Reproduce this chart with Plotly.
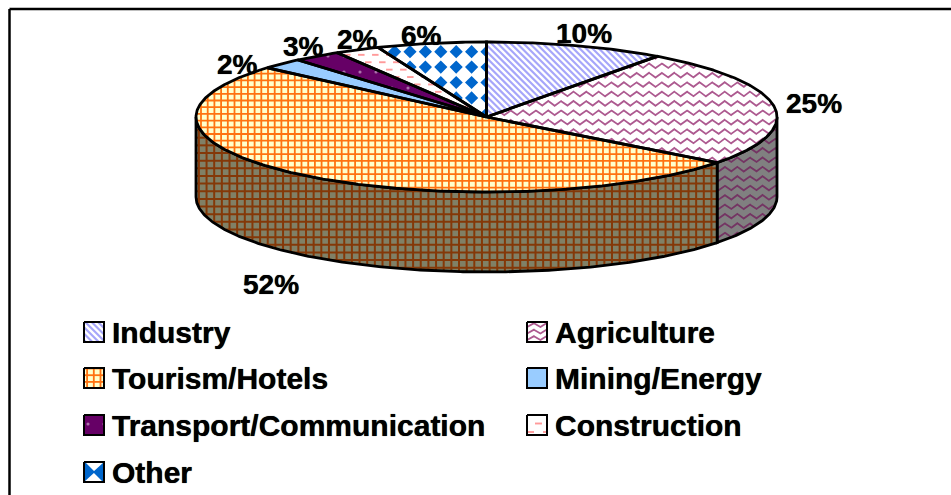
import numpy as np
import plotly.graph_objects as go

# ---- data ----
CATEGORIES = ["Industry", "Agriculture", "Tourism/Hotels", "Mining/Energy",
              "Transport/Communication", "Construction", "Other"]
VALUES = [10.0, 25.4, 51.0, 2.35, 2.65, 2.5, 6.1]
PERCENT_LABELS = ["10%", "25%", "52%", "2%", "3%", "2%", "6%"]

# ---- layout constants (pixels) ----
W, H = 951, 495
CX, CY, RX, RY, DEPTH = 486.5, 117, 290.5, 75, 80
EDGE = 2.8
FONT = "Liberation Sans"
LABEL_POS = [(584, 33), (814, 103), (271, 284), (237, 64), (303, 46), (357, 39), (421, 35)]
LEGEND_ROWS = [332, 378, 425, 472]
LEGEND_COLS = [(84, 110), (527, 552.5)]
LEGEND_SLOTS = [(0, 0), (1, 0), (0, 1), (1, 1), (0, 2), (1, 2), (0, 3)]
SWATCH = 20
THICK = "0 0 0.7px black"

fig = go.Figure()


def ell(t, dy=0.0):
    t = np.radians(t)
    return CX + RX * np.sin(t), CY - RY * np.cos(t) + dy


def arc(a0, a1, dy=0.0):
    n = max(int(abs(a1 - a0) * 2), 2)
    return ell(np.linspace(a0, a1, n), dy)


def inside(px, py, poly):
    xs, ys = poly
    res = np.zeros_like(px, dtype=bool)
    j = len(xs) - 1
    for i in range(len(xs)):
        c = (ys[i] > py) != (ys[j] > py)
        with np.errstate(divide="ignore", invalid="ignore"):
            xc = (xs[j] - xs[i]) * (py - ys[i]) / (ys[j] - ys[i]) + xs[i]
        res ^= c & (px < xc)
        j = i
    return res


def clip_runs(px, py, poly):
    m = inside(px, py, poly)
    ox, oy = [], []
    for i in range(len(px)):
        if m[i]:
            ox.append(float(px[i]))
            oy.append(float(py[i]))
        elif ox and ox[-1] is not None:
            ox.append(None)
            oy.append(None)
    if ox and ox[-1] is not None:
        ox.append(None)
        oy.append(None)
    return ox, oy


def wave_lines(poly, period=12.6, row=9.4, amp=2.6, phase=(0.0, 0.0)):
    xs, ys = poly
    X, Y = [], []
    y0 = np.floor((min(ys) - phase[1]) / row) * row + phase[1]
    for yc in np.arange(y0, max(ys) + row, row):
        px = np.arange(min(xs) - period, max(xs) + period, 0.4)
        f = ((px - phase[0]) / period) % 1.0
        tri = 4 * np.abs(f - 0.5) - 1
        a, b = clip_runs(px, yc + amp * tri, poly)
        X += a
        Y += b
    return X, Y


def dash_lines(poly, period=14, row=7.4, length=6.5):
    xs, ys = poly
    X, Y = [], []
    for k, yc in enumerate(np.arange(min(ys), max(ys) + row, row)):
        off = (k % 2) * period / 2
        for x0 in np.arange(min(xs) - period + off, max(xs) + period, period):
            px = np.linspace(x0, x0 + length, 12)
            a, b = clip_runs(px, np.full_like(px, yc), poly)
            X += a
            Y += b
    return X, Y


def grid_lines(poly, period):
    xs, ys = poly
    X, Y = [], []
    for gx in np.arange(np.floor(min(xs) / period) * period, max(xs) + period, period):
        py = np.arange(min(ys) - 1, max(ys) + 1, 0.5)
        a, b = clip_runs(np.full_like(py, gx), py, poly)
        X += a
        Y += b
    for gy in np.arange(np.floor(min(ys) / period) * period, max(ys) + period, period):
        px = np.arange(min(xs) - 1, max(xs) + 1, 0.5)
        a, b = clip_runs(px, np.full_like(px, gy), poly)
        X += a
        Y += b
    return X, Y


def diag_lines(poly, period):
    xs, ys = poly
    X, Y = [], []
    lo, hi = min(xs) - max(ys), max(xs) - min(ys)
    for c in np.arange(np.floor(lo / period) * period, hi + period, period):
        py = np.arange(min(ys) - 1, max(ys) + 1, 0.5)
        a, b = clip_runs(py + c, py, poly)
        X += a
        Y += b
    return X, Y


def clip_convex(pts, poly):
    xs, ys = poly
    area = np.sum(xs * np.roll(ys, -1) - np.roll(xs, -1) * ys)
    s = 1 if area > 0 else -1
    out = pts
    for i in range(len(xs)):
        ax, ay = xs[i], ys[i]
        bx, by = xs[(i + 1) % len(xs)], ys[(i + 1) % len(xs)]
        if abs(ax - bx) + abs(ay - by) < 1e-9:
            continue
        d = lambda p: s * ((bx - ax) * (p[1] - ay) - (by - ay) * (p[0] - ax))
        new = []
        for k in range(len(out)):
            p, q = out[k], out[(k + 1) % len(out)]
            dp, dq = d(p), d(q)
            if dp >= 0:
                new.append(p)
            if (dp >= 0) != (dq >= 0):
                u = dp / (dp - dq)
                new.append((p[0] + u * (q[0] - p[0]), p[1] + u * (q[1] - p[1])))
        out = new
        if not out:
            break
    return out


def diamonds(poly, period=15.4, half=6.6, anchor=(410, 51.7)):
    xs, ys = poly
    X, Y = [], []
    for gx in np.arange(anchor[0] - 40 * period, anchor[0] + 40 * period, period):
        if gx < min(xs) - half or gx > max(xs) + half:
            continue
        for gy in np.arange(anchor[1] - 20 * period, anchor[1] + 20 * period, period):
            if gy < min(ys) - half or gy > max(ys) + half:
                continue
            d = [(gx - half, gy), (gx, gy - half), (gx + half, gy), (gx, gy + half)]
            c = clip_convex(d, poly)
            if len(c) >= 3:
                X += [p[0] for p in c] + [c[0][0], None]
                Y += [p[1] for p in c] + [c[0][1], None]
    return X, Y


def add_fill(x, y, color="white", pattern=None):
    fig.add_trace(go.Scatter(x=list(x), y=list(y), mode="lines", fill="toself",
                             fillcolor=color, line=dict(width=0, color=color),
                             fillpattern=pattern, showlegend=False, hoverinfo="skip"))


def add_line(x, y, color="black", width=EDGE):
    fig.add_trace(go.Scatter(x=list(x), y=list(y), mode="lines",
                             line=dict(color=color, width=width), showlegend=False,
                             hoverinfo="skip", connectgaps=False))


def add_texture(kind, poly, legend=False):
    if kind == "wave":
        if legend:
            X, Y = wave_lines(poly, period=13, row=6.5, amp=2.2, phase=(poly[0].min(), poly[1].min() + 3))
        else:
            X, Y = wave_lines(poly)
        add_line(X, Y, "#ad5a90", 1.8)
    elif kind == "wave_dark":
        X, Y = wave_lines(poly)
        add_line(X, Y, "#743463", 1.8)
    elif kind == "dash":
        if legend:
            X, Y = dash_lines(poly, period=16, row=8.5, length=7)
        else:
            X, Y = dash_lines(poly)
        add_line(X, Y, "#ff9a9a", 1.9)
    elif kind == "diamond":
        if legend:
            xs, ys = poly
            X, Y = diamonds(poly, period=xs.max() - xs.min(), half=11,
                            anchor=(xs.min(), (ys.min() + ys.max()) / 2))
        else:
            X, Y = diamonds(poly)
        add_fill(X, Y, "#0066cc")
    elif kind == "grid":
        X, Y = grid_lines(poly, 6.7)
        add_line(X, Y, "#ff7210", 1.8)
    elif kind == "grid_dark":
        X, Y = grid_lines(poly, 7.65)
        add_line(X, Y, "#843808", 2.0)
    elif kind == "diag":
        X, Y = diag_lines(poly, 6.4)
        add_line(X, Y, "#a6a6fa", 2.2)


TOP_STYLE = [
    dict(color="white", texture="diag"),
    dict(color="white", texture="wave"),
    dict(color="#ffffcc", texture="grid"),
    dict(color="#99ccff"),
    dict(color="#660066", pattern=dict(shape=".", fgcolor="#f0e4f0", bgcolor="#660066", size=16, solidity=0.03)),
    dict(color="white", texture="dash"),
    dict(color="white", texture="diamond"),
]
SIDE_STYLE = {
    1: dict(color="#808080", texture="wave_dark"),
    2: dict(color="#808066", texture="grid_dark"),
}

edges = np.concatenate([[0.0], np.cumsum(VALUES)]) / np.sum(VALUES) * 360.0

# side walls
for i, st in SIDE_STYLE.items():
    a0, a1 = max(edges[i], 90.0), min(edges[i + 1], 270.0)
    tx, ty = arc(a0, a1)
    bx, by = arc(a1, a0, DEPTH)
    px, py = np.concatenate([tx, bx]), np.concatenate([ty, by])
    add_fill(np.append(px, px[0]), np.append(py, py[0]), st["color"], st.get("pattern"))
    if st.get("texture"):
        add_texture(st["texture"], (px, py))
    add_line(np.append(px, px[0]), np.append(py, py[0]))

# top face
sectors = []
for i, st in enumerate(TOP_STYLE):
    ax, ay = arc(edges[i], edges[i + 1])
    px, py = np.concatenate([[CX], ax]), np.concatenate([[CY], ay])
    sectors.append((px, py))
    add_fill(np.append(px, px[0]), np.append(py, py[0]), st["color"], st.get("pattern"))
    if st.get("texture"):
        add_texture(st["texture"], (px, py))
for px, py in sectors:
    add_line(np.append(px, px[0]), np.append(py, py[0]))

annotations = []
for txt, (lx, ly) in zip(PERCENT_LABELS, LABEL_POS):
    annotations.append(dict(x=lx, y=ly, text=f"<b>{txt}</b>", showarrow=False, xref="x", yref="y",
                            xanchor="center", yanchor="middle",
                            font=dict(family=FONT, size=28, color="black", shadow=THICK)))

# legend keys and names
for i, name in enumerate(CATEGORIES):
    c, r = LEGEND_SLOTS[i]
    sx, tx = LEGEND_COLS[c]
    yc = LEGEND_ROWS[r]
    t, b = yc - SWATCH / 2, yc + SWATCH / 2
    qx = np.array([sx, sx + SWATCH, sx + SWATCH, sx], dtype=float)
    qy = np.array([t, t, b, b], dtype=float)
    st = TOP_STYLE[i]
    pat = st.get("pattern")
    add_fill(np.append(qx, qx[0]), np.append(qy, qy[0]), st["color"], pat)
    if st.get("texture"):
        add_texture(st["texture"], (qx, qy), legend=True)
    add_line(np.append(qx, qx[0]), np.append(qy, qy[0]), "black", 2)
    annotations.append(dict(x=tx, y=yc, text=f"<b>{name}</b>", showarrow=False, xref="x", yref="y",
                            xanchor="left", yanchor="middle",
                            font=dict(family=FONT, size=30, color="black", shadow=THICK)))

# outer frame: only top and left edges are inside the picture
shapes = [
    dict(type="line", x0=9.5, x1=W + 5, y0=9, y1=9, xref="x", yref="y", line=dict(color="black", width=2.5)),
    dict(type="line", x0=9.5, x1=9.5, y0=9, y1=H + 5, xref="x", yref="y", line=dict(color="black", width=2.5)),
]

fig.update_layout(
    width=W, height=H, margin=dict(l=0, r=0, t=0, b=0, pad=0),
    paper_bgcolor="white", plot_bgcolor="white", showlegend=False, hovermode=False,
    xaxis=dict(range=[0, W], visible=False, fixedrange=True),
    yaxis=dict(range=[H, 0], visible=False, fixedrange=True),
    annotations=annotations, shapes=shapes,
)
fig.write_html("out.html", config=dict(displayModeBar=False),
               post_script="document.body.style.margin='0';document.documentElement.style.overflow='hidden';")
